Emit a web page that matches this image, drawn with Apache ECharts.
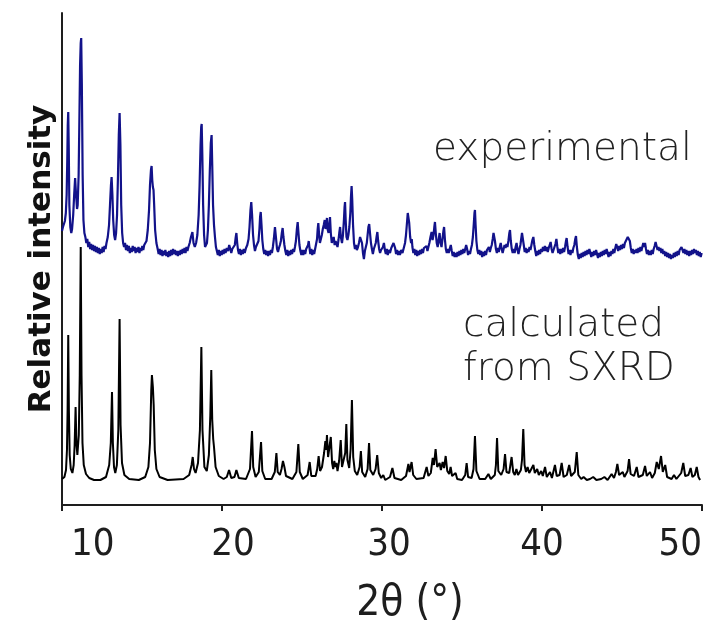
<!DOCTYPE html>
<html>
<head>
<meta charset="utf-8">
<script src="https://cdn.jsdelivr.net/npm/echarts@6/dist/echarts.min.js"></script>
<style>
  html, body { margin: 0; padding: 0; background: #ffffff; }
  #chart { width: 721px; height: 628px; }
</style>
</head>
<body>
<div id="chart"></div>
<script>
// Powder X-ray diffraction patterns: 2θ (degrees) vs. relative intensity (arbitrary units).
// The measured pattern is plotted with a vertical offset above the calculated one.

const xTicks = [10, 20, 30, 40, 50];

// Pattern calculated from the single-crystal structure
const calculated = [
  [10.0, 26], [10.15, 28], [10.25, 35], [10.31, 55], [10.35, 95], [10.39, 170], [10.43, 95], [10.48, 50],
  [10.55, 36], [10.65, 32], [10.73, 40], [10.79, 60], [10.85, 98], [10.9, 62], [10.96, 50], [11.05, 70],
  [11.11, 130], [11.17, 258], [11.22, 130], [11.28, 62], [11.36, 40], [11.5, 31], [11.7, 27], [12.0, 25],
  [12.4, 25], [12.75, 28], [12.95, 40], [13.05, 62], [13.125, 113], [13.18, 62], [13.25, 38], [13.33, 32],
  [13.43, 40], [13.52, 75], [13.6, 186], [13.66, 80], [13.75, 42], [13.9, 30], [14.2, 26], [14.8, 25],
  [15.2, 28], [15.4, 38], [15.5, 62], [15.58, 115], [15.62, 130], [15.68, 118], [15.73, 100], [15.8, 55],
  [15.9, 36], [16.1, 28], [16.6, 25], [17.6, 26], [17.95, 30], [18.1, 40], [18.17, 48], [18.25, 36],
  [18.35, 32], [18.5, 42], [18.62, 75], [18.71, 158], [18.78, 75], [18.9, 38], [19.05, 34], [19.18, 50],
  [19.27, 90], [19.33, 135], [19.39, 85], [19.45, 66], [19.5, 58], [19.6, 38], [19.8, 29], [20.1, 26],
  [20.3, 28], [20.44, 35], [20.58, 27], [20.78, 28], [20.9, 35], [21.05, 27], [21.5, 26], [21.75, 36],
  [21.875, 74], [21.95, 38], [22.1, 28], [22.3, 33], [22.44, 63], [22.52, 34], [22.7, 26], [23.1, 26],
  [23.3, 33], [23.4, 52], [23.48, 33], [23.62, 30], [23.72, 36], [23.81, 44], [23.9, 38], [24.0, 29],
  [24.4, 26], [24.65, 33], [24.77, 61], [24.86, 33], [25.05, 26], [25.35, 30], [25.48, 43], [25.58, 29],
  [25.85, 29], [25.95, 36], [26.04, 49], [26.13, 34], [26.25, 38], [26.38, 52], [26.46, 64], [26.51, 55],
  [26.56, 70], [26.63, 48], [26.72, 50], [26.8, 68], [26.88, 42], [26.95, 36], [27.02, 44], [27.08, 38],
  [27.15, 42], [27.22, 34], [27.32, 44], [27.42, 65], [27.5, 38], [27.6, 36], [27.7, 52], [27.77, 81],
  [27.84, 45], [27.95, 37], [28.04, 56], [28.12, 105], [28.2, 48], [28.3, 34], [28.45, 30], [28.6, 38],
  [28.68, 54], [28.76, 33], [28.95, 28], [29.1, 36], [29.19, 62], [29.27, 35], [29.45, 30], [29.6, 36],
  [29.7, 50], [29.8, 32], [29.95, 27], [30.08, 30], [30.2, 25], [30.5, 28], [30.65, 37], [30.78, 27],
  [31.2, 25], [31.5, 29], [31.65, 41], [31.72, 33], [31.85, 43], [31.95, 30], [32.15, 26], [32.6, 27],
  [32.79, 38], [32.9, 29], [33.05, 32], [33.17, 47], [33.25, 40], [33.35, 56], [33.45, 38], [33.52, 36],
  [33.6, 42], [33.68, 35], [33.79, 43], [33.88, 37], [33.98, 49], [34.08, 34], [34.2, 31], [34.29, 38],
  [34.38, 29], [34.5, 28], [34.6, 32], [34.7, 26], [35.0, 25], [35.2, 30], [35.29, 42], [35.38, 28],
  [35.6, 27], [35.72, 36], [35.81, 69], [35.9, 34], [36.1, 26], [36.45, 26], [36.65, 31], [36.8, 26],
  [37.05, 30], [37.12, 40], [37.19, 67], [37.27, 34], [37.45, 30], [37.6, 36], [37.69, 51], [37.78, 33],
  [37.95, 32], [38.1, 48], [38.2, 33], [38.3, 30], [38.4, 36], [38.5, 30], [38.68, 35], [38.75, 45],
  [38.83, 76], [38.91, 40], [39.0, 33], [39.1, 38], [39.2, 32], [39.3, 35], [39.38, 33], [39.46, 40],
  [39.55, 32], [39.7, 36], [39.8, 30], [39.95, 34], [40.05, 29], [40.19, 38], [40.3, 28], [40.5, 33],
  [40.62, 27], [40.81, 40], [40.92, 29], [41.1, 30], [41.23, 42], [41.35, 28], [41.55, 30], [41.7, 40],
  [41.82, 29], [42.05, 33], [42.17, 53], [42.27, 30], [42.45, 26], [42.6, 28], [42.8, 25], [43.0, 26],
  [43.2, 28], [43.4, 25], [43.7, 26], [43.9, 28], [44.1, 25], [44.35, 31], [44.5, 27], [44.62, 33],
  [44.71, 41], [44.82, 30], [45.05, 33], [45.15, 28], [45.35, 34], [45.44, 46], [45.54, 31], [45.75, 29],
  [45.92, 38], [46.03, 28], [46.3, 30], [46.44, 39], [46.55, 29], [46.75, 33], [46.88, 27], [47.05, 32],
  [47.17, 43], [47.3, 36], [47.44, 49], [47.55, 33], [47.7, 40], [47.82, 28], [48.1, 26], [48.25, 30],
  [48.4, 26], [48.7, 32], [48.83, 42], [48.95, 29], [49.15, 30], [49.29, 37], [49.4, 28], [49.55, 30],
  [49.67, 38], [49.78, 28], [49.88, 25]
];

// Measured pattern (offset upwards)
const experimental = [
  [10.0, 274], [10.06, 278], [10.12, 276], [10.18, 284], [10.24, 292], [10.29, 310], [10.33, 345], [10.36, 380],
  [10.39, 393], [10.42, 360], [10.46, 300], [10.52, 278], [10.58, 272], [10.63, 276], [10.7, 290], [10.76, 310],
  [10.82, 327], [10.88, 310], [10.94, 296], [10.98, 300], [11.04, 330], [11.09, 390], [11.13, 440], [11.17, 462],
  [11.2, 467], [11.24, 420], [11.29, 330], [11.34, 285], [11.4, 272], [11.46, 268], [11.52, 262], [11.58, 266],
  [11.64, 258], [11.7, 263], [11.76, 256], [11.82, 261], [11.88, 255], [11.94, 260], [12.0, 254], [12.06, 259],
  [12.12, 253], [12.18, 258], [12.24, 252], [12.3, 257], [12.36, 251], [12.42, 256], [12.48, 252], [12.54, 258],
  [12.6, 253], [12.66, 259], [12.72, 256], [12.78, 262], [12.86, 268], [12.94, 280], [13.0, 300], [13.06, 320],
  [13.1, 328], [13.15, 310], [13.2, 285], [13.26, 270], [13.32, 265], [13.38, 272], [13.44, 290], [13.5, 330],
  [13.55, 370], [13.6, 392], [13.65, 360], [13.7, 300], [13.76, 272], [13.82, 262], [13.88, 258], [13.94, 262],
  [14.0, 255], [14.06, 260], [14.12, 254], [14.18, 259], [14.24, 252], [14.3, 257], [14.36, 253], [14.42, 259],
  [14.48, 254], [14.54, 258], [14.6, 252], [14.66, 257], [14.72, 253], [14.78, 258], [14.84, 252], [14.9, 257],
  [14.96, 254], [15.02, 259], [15.08, 255], [15.14, 260], [15.2, 258], [15.28, 264], [15.36, 275], [15.44, 295],
  [15.5, 320], [15.56, 335], [15.6, 339], [15.64, 325], [15.68, 318], [15.72, 315], [15.76, 300], [15.82, 275],
  [15.9, 262], [15.98, 256], [16.04, 251], [16.1, 256], [16.16, 250], [16.22, 255], [16.28, 249], [16.34, 254],
  [16.4, 250], [16.46, 255], [16.52, 249], [16.58, 253], [16.64, 248], [16.7, 254], [16.76, 249], [16.82, 255],
  [16.88, 250], [16.94, 256], [17.0, 251], [17.06, 255], [17.12, 250], [17.18, 254], [17.24, 249], [17.3, 254],
  [17.36, 250], [17.42, 255], [17.48, 251], [17.54, 256], [17.6, 252], [17.66, 257], [17.72, 252], [17.78, 258],
  [17.84, 254], [17.9, 258], [17.98, 262], [18.06, 268], [18.15, 273], [18.22, 262], [18.3, 258], [18.38, 262],
  [18.46, 270], [18.54, 290], [18.6, 320], [18.66, 360], [18.7, 378], [18.73, 381], [18.77, 350], [18.82, 300],
  [18.88, 270], [18.94, 258], [19.0, 256], [19.06, 262], [19.12, 275], [19.18, 300], [19.24, 335], [19.3, 362],
  [19.35, 370], [19.39, 340], [19.44, 300], [19.5, 280], [19.56, 268], [19.62, 258], [19.68, 254], [19.74, 250],
  [19.8, 255], [19.86, 249], [19.92, 254], [19.98, 250], [20.04, 255], [20.1, 251], [20.16, 256], [20.22, 252],
  [20.3, 257], [20.38, 254], [20.45, 260], [20.52, 256], [20.58, 252], [20.64, 256], [20.72, 254], [20.8, 260],
  [20.86, 268], [20.9, 272], [20.95, 262], [21.0, 255], [21.06, 251], [21.12, 256], [21.18, 250], [21.24, 255],
  [21.3, 251], [21.36, 256], [21.42, 252], [21.5, 257], [21.58, 260], [21.66, 266], [21.72, 278], [21.78, 295],
  [21.83, 303], [21.88, 290], [21.94, 270], [22.0, 260], [22.06, 254], [22.12, 258], [22.2, 256], [22.28, 264],
  [22.34, 276], [22.38, 288], [22.42, 293], [22.47, 280], [22.52, 265], [22.58, 256], [22.64, 251], [22.7, 255],
  [22.76, 250], [22.82, 254], [22.88, 249], [22.94, 254], [23.0, 250], [23.06, 255], [23.12, 252], [23.18, 258],
  [23.24, 266], [23.31, 278], [23.37, 268], [23.44, 256], [23.5, 253], [23.56, 257], [23.62, 260], [23.68, 264],
  [23.74, 272], [23.79, 277], [23.84, 268], [23.9, 260], [23.96, 254], [24.02, 250], [24.08, 255], [24.14, 249],
  [24.2, 254], [24.26, 250], [24.32, 255], [24.38, 251], [24.44, 256], [24.5, 253], [24.56, 258], [24.62, 264],
  [24.68, 276], [24.73, 283], [24.78, 272], [24.84, 260], [24.9, 254], [24.96, 250], [25.02, 255], [25.08, 250],
  [25.14, 255], [25.2, 251], [25.26, 256], [25.32, 255], [25.38, 260], [25.42, 264], [25.47, 257], [25.52, 251],
  [25.58, 256], [25.64, 250], [25.7, 255], [25.76, 251], [25.82, 256], [25.88, 258], [25.94, 266], [25.98, 276],
  [26.02, 282], [26.07, 270], [26.12, 262], [26.18, 264], [26.24, 270], [26.3, 276], [26.36, 280], [26.42, 285],
  [26.47, 276], [26.52, 282], [26.56, 287], [26.61, 275], [26.66, 272], [26.71, 280], [26.75, 288], [26.8, 272],
  [26.86, 262], [26.92, 264], [26.98, 268], [27.04, 260], [27.1, 264], [27.16, 266], [27.22, 258], [27.28, 265],
  [27.33, 272], [27.38, 278], [27.43, 268], [27.5, 262], [27.56, 270], [27.62, 285], [27.66, 298], [27.69, 303],
  [27.73, 285], [27.78, 268], [27.84, 265], [27.9, 270], [27.96, 278], [28.02, 292], [28.06, 308], [28.1, 319],
  [28.14, 305], [28.19, 280], [28.25, 262], [28.31, 256], [28.37, 260], [28.43, 255], [28.5, 258], [28.56, 262],
  [28.63, 268], [28.69, 270], [28.75, 262], [28.81, 252], [28.87, 246], [28.93, 254], [28.99, 258], [29.05, 262],
  [29.1, 270], [29.15, 278], [29.2, 281], [29.25, 272], [29.31, 262], [29.37, 256], [29.43, 251], [29.49, 256],
  [29.55, 258], [29.61, 262], [29.66, 268], [29.71, 273], [29.76, 264], [29.82, 256], [29.88, 252], [29.94, 255],
  [30.0, 253], [30.06, 258], [30.12, 262], [30.18, 255], [30.24, 251], [30.3, 256], [30.36, 250], [30.42, 255],
  [30.5, 252], [30.58, 257], [30.66, 258], [30.72, 262], [30.77, 263], [30.82, 257], [30.88, 251], [30.94, 255],
  [31.0, 250], [31.06, 254], [31.12, 250], [31.2, 255], [31.28, 252], [31.36, 257], [31.44, 262], [31.5, 270],
  [31.56, 282], [31.61, 292], [31.65, 294], [31.7, 282], [31.76, 268], [31.82, 262], [31.86, 266], [31.9, 258],
  [31.96, 252], [32.02, 256], [32.08, 250], [32.14, 255], [32.2, 249], [32.26, 254], [32.32, 250], [32.38, 255],
  [32.44, 251], [32.5, 256], [32.56, 252], [32.62, 257], [32.7, 256], [32.78, 259], [32.84, 254], [32.9, 258],
  [32.96, 262], [33.03, 268], [33.1, 273], [33.16, 265], [33.22, 270], [33.27, 278], [33.31, 283], [33.36, 272],
  [33.42, 262], [33.48, 258], [33.54, 265], [33.6, 272], [33.66, 262], [33.72, 258], [33.78, 266], [33.84, 274],
  [33.88, 278], [33.93, 266], [33.99, 256], [34.05, 252], [34.11, 256], [34.17, 252], [34.23, 256], [34.3, 260],
  [34.36, 254], [34.42, 249], [34.48, 253], [34.54, 248], [34.6, 252], [34.66, 248], [34.72, 253], [34.78, 249],
  [34.84, 254], [34.9, 250], [34.96, 255], [35.02, 251], [35.08, 256], [35.14, 252], [35.2, 256], [35.26, 260],
  [35.32, 256], [35.38, 250], [35.44, 254], [35.5, 251], [35.56, 256], [35.62, 260], [35.68, 268], [35.74, 282],
  [35.78, 292], [35.81, 295], [35.85, 280], [35.9, 264], [35.96, 255], [36.02, 251], [36.08, 255], [36.14, 250],
  [36.2, 254], [36.26, 248], [36.32, 253], [36.38, 249], [36.44, 254], [36.5, 250], [36.56, 255], [36.62, 253],
  [36.68, 258], [36.74, 253], [36.8, 257], [36.86, 260], [36.92, 266], [36.97, 272], [37.01, 273], [37.06, 264],
  [37.12, 256], [37.18, 252], [37.24, 257], [37.3, 253], [37.36, 258], [37.42, 262], [37.48, 256], [37.54, 252],
  [37.6, 256], [37.66, 260], [37.72, 257], [37.78, 261], [37.84, 258], [37.9, 264], [37.96, 272], [38.0, 275],
  [38.05, 264], [38.11, 256], [38.17, 252], [38.23, 256], [38.29, 252], [38.35, 258], [38.41, 262], [38.47, 255],
  [38.53, 251], [38.59, 256], [38.65, 260], [38.7, 266], [38.75, 272], [38.8, 270], [38.86, 260], [38.92, 253],
  [38.98, 257], [39.04, 252], [39.1, 256], [39.16, 253], [39.22, 258], [39.28, 255], [39.34, 260], [39.4, 265],
  [39.46, 268], [39.52, 260], [39.58, 254], [39.64, 249], [39.7, 254], [39.76, 250], [39.82, 255], [39.88, 251],
  [39.94, 256], [40.0, 253], [40.06, 258], [40.12, 254], [40.18, 259], [40.24, 254], [40.3, 258], [40.36, 253],
  [40.42, 257], [40.48, 260], [40.54, 263], [40.6, 256], [40.66, 252], [40.72, 255], [40.78, 258], [40.84, 261],
  [40.9, 266], [40.96, 258], [41.02, 252], [41.08, 256], [41.14, 251], [41.2, 256], [41.26, 252], [41.32, 257],
  [41.38, 253], [41.44, 258], [41.5, 264], [41.54, 267], [41.6, 258], [41.66, 251], [41.72, 255], [41.78, 250],
  [41.84, 255], [41.9, 252], [41.96, 257], [42.02, 260], [42.08, 266], [42.125, 269], [42.18, 258], [42.24, 250],
  [42.3, 246], [42.36, 251], [42.42, 247], [42.48, 252], [42.54, 248], [42.6, 253], [42.66, 249], [42.72, 254],
  [42.78, 250], [42.84, 255], [42.9, 251], [42.96, 256], [43.02, 252], [43.08, 248], [43.14, 253], [43.2, 249],
  [43.26, 254], [43.32, 250], [43.38, 255], [43.44, 251], [43.5, 247], [43.56, 252], [43.62, 248], [43.68, 253],
  [43.74, 249], [43.8, 254], [43.86, 250], [43.92, 255], [43.98, 251], [44.04, 256], [44.1, 252], [44.16, 248],
  [44.22, 253], [44.28, 249], [44.34, 254], [44.4, 251], [44.46, 256], [44.52, 252], [44.58, 257], [44.64, 261],
  [44.7, 258], [44.76, 254], [44.82, 259], [44.88, 255], [44.94, 260], [45.0, 256], [45.06, 261], [45.12, 257],
  [45.18, 262], [45.24, 260], [45.3, 264], [45.36, 268], [45.4, 270], [45.44, 270], [45.49, 264], [45.55, 257],
  [45.61, 252], [45.67, 256], [45.73, 251], [45.79, 255], [45.85, 252], [45.91, 256], [45.97, 252], [46.03, 257],
  [46.09, 253], [46.15, 258], [46.21, 254], [46.27, 258], [46.33, 262], [46.39, 258], [46.44, 262], [46.5, 256],
  [46.56, 251], [46.62, 255], [46.68, 250], [46.74, 254], [46.8, 250], [46.86, 255], [46.92, 251], [46.98, 256],
  [47.04, 259], [47.1, 263], [47.16, 259], [47.22, 255], [47.28, 258], [47.34, 254], [47.4, 257], [47.46, 252],
  [47.52, 256], [47.58, 251], [47.64, 254], [47.7, 249], [47.76, 253], [47.82, 248], [47.88, 252], [47.94, 247],
  [48.0, 251], [48.06, 246], [48.12, 250], [48.18, 247], [48.24, 252], [48.3, 248], [48.36, 253], [48.42, 249],
  [48.48, 254], [48.54, 250], [48.6, 255], [48.66, 254], [48.72, 258], [48.78, 256], [48.84, 252], [48.9, 256],
  [48.96, 251], [49.02, 255], [49.08, 250], [49.14, 254], [49.2, 249], [49.26, 254], [49.32, 250], [49.38, 255],
  [49.44, 251], [49.5, 256], [49.56, 252], [49.62, 255], [49.68, 250], [49.74, 254], [49.8, 249], [49.86, 253],
  [49.92, 248], [49.98, 252]
];

const seriesNames = ['experimental', 'calculated from SXRD'];
const yRange = [0, 492];

const axisColor = '#1e1e1e';
const narrowFont = '"DejaVu Sans Condensed", "Liberation Sans Narrow", "Liberation Sans", sans-serif';
const labelFont = '"DejaVu Sans", "Open Sans", sans-serif';

// Each tick label is nudged right by a per-value amount (px of left padding).
const tickNudge = { 10: 9, 20: 22, 30: 14, 40: 0, 50: 0 };
const tickRich = {};
xTicks.forEach(function (v) {
  tickRich['t' + v] = { fontFamily: narrowFont, fontSize: 38, color: axisColor, padding: [0, 0, 0, tickNudge[v]] };
});

const chart = echarts.init(document.getElementById('chart'), null, { renderer: 'canvas' });

chart.setOption({
  animation: false,
  backgroundColor: '#ffffff',
  grid: { left: 62, right: 19, top: 13, bottom: 123, containLabel: false },
  xAxis: {
    type: 'value',
    min: xTicks[0],
    max: xTicks[xTicks.length - 1],
    interval: 10,
    axisLine: { show: true, onZero: false, lineStyle: { color: axisColor, width: 2 } },
    axisTick: { show: true, inside: false, length: 6, lineStyle: { color: axisColor, width: 2 } },
    axisLabel: {
      show: true, margin: 21,
      alignMinLabel: 'left', alignMaxLabel: 'right',
      formatter: function (v) { return '{t' + v + '|' + v + '}'; },
      rich: tickRich
    },
    splitLine: { show: false }
  },
  yAxis: {
    type: 'value',
    min: yRange[0],
    max: yRange[1],
    name: 'Relative intensity',
    nameLocation: 'middle',
    nameRotate: 90,
    nameGap: 5,
    nameTextStyle: { fontFamily: labelFont, fontWeight: 'bold', fontSize: 31, color: '#111' },
    axisLine: { show: true, lineStyle: { color: axisColor, width: 2 } },
    axisTick: { show: false },
    axisLabel: { show: false },
    splitLine: { show: false }
  },
  series: [
    {
      name: seriesNames[0],
      type: 'line',
      data: experimental,
      showSymbol: false,
      silent: true,
      lineStyle: { color: '#12128a', width: 2.2 },
      z: 3
    },
    {
      name: seriesNames[1],
      type: 'line',
      data: calculated,
      showSymbol: false,
      silent: true,
      lineStyle: { color: '#000000', width: 2 },
      z: 2
    }
  ],
  graphic: [
    {
      type: 'text', x: 410, y: 604,
      style: { text: '2θ (°)', fontFamily: narrowFont, fontSize: 42, fill: axisColor,
               textAlign: 'center', textVerticalAlign: 'middle' }
    },
    {
      type: 'text', x: 433, y: 150,
      style: { text: 'experimental', fontFamily: labelFont, fontWeight: 300, fontSize: 39, fill: '#222',
               textAlign: 'left', textVerticalAlign: 'middle' }
    },
    {
      type: 'text', x: 463, y: 326,
      style: { text: 'calculated', fontFamily: labelFont, fontWeight: 300, fontSize: 39, fill: '#222',
               textAlign: 'left', textVerticalAlign: 'middle' }
    },
    {
      type: 'text', x: 463, y: 370,
      style: { text: 'from SXRD', fontFamily: labelFont, fontWeight: 300, fontSize: 39, fill: '#222',
               textAlign: 'left', textVerticalAlign: 'middle' }
    }
  ]
});
</script>
</body>
</html>
